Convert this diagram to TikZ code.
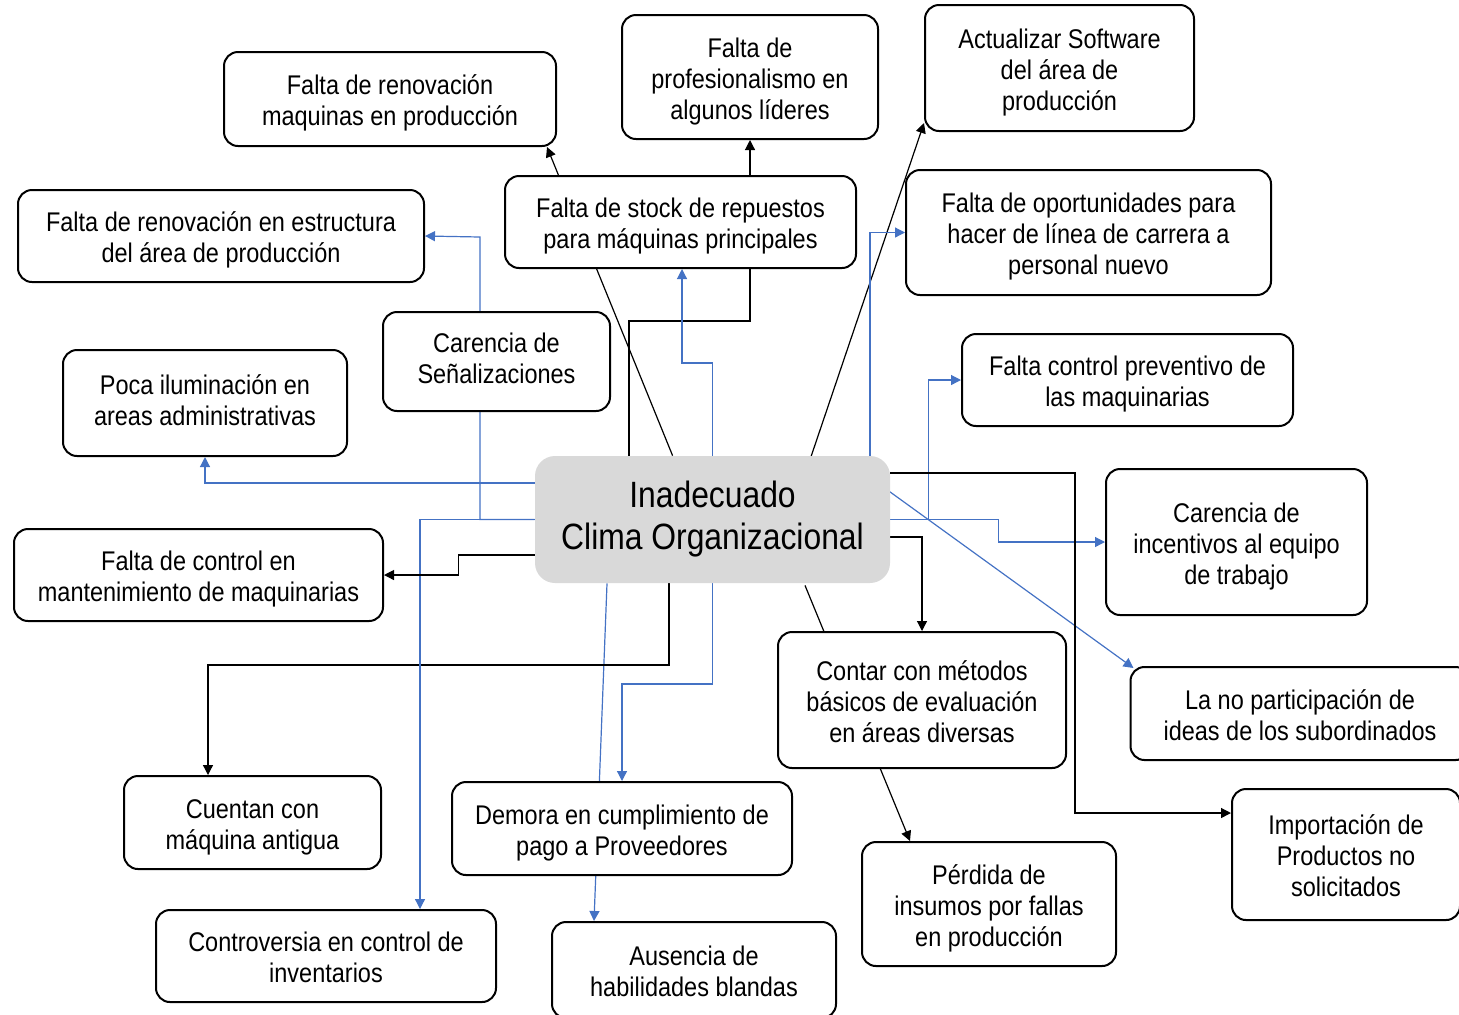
\documentclass[tikz,border=0pt]{standalone}
\usepackage{fontspec}
\setmainfont{Liberation Sans}[FakeStretch=0.87]
\usepackage{xcolor}
\usetikzlibrary{positioning}
\usetikzlibrary{arrows.meta}
\usetikzlibrary{calc}
\usetikzlibrary{backgrounds}
\definecolor{linkblue}{HTML}{4472C4}
\definecolor{coregray}{HTML}{D9D9D9}
\newcommand{\boxtop}{\rule{0pt}{13.9pt}}
\tikzset{
box/.style={draw=black, line width=1pt, rounded corners=7pt, fill=white, align=center, inner sep=0pt, font=\fontsize{13.5}{15.5}\selectfont,
  execute at end node={\rule[-2.9pt]{0pt}{2.9pt}}},
sz/.style 2 args={minimum width=#1*0.5pt, minimum height=#2*0.5pt},
core/.style={fill=coregray, rounded corners=10pt, align=center, inner sep=0pt, font=\fontsize{18.3}{21}\selectfont},
blackline/.style={black, line width=0.6pt},
blueline/.style={linkblue, line width=0.6pt},
tip/.style={-{Triangle[length=5pt,width=5pt]}}
}

\begin{document}
\begin{tikzpicture}[x=0.5pt,y=-0.5pt]
\clip (0,0) rectangle (1459,1014);

% Coordinates
\coordinate (stock_bend) at (682,363);
\coordinate (elbow_bend) at (750,321);
\coordinate (senal_bend) at (480,237);
\coordinate (cuentan_bend) at (208,665);
\coordinate (demora_bend) at (622,684);
\coordinate (import_bend) at (1075,813);

% Boxes
\node[core, sz={355}{127}] (clima) at (712.5,519.5) {Inadecuado\\Clima Organizacional};

\node[box, sz={332}{94}] (renovmaq) at (390,99) {\boxtop Falta de renovación\\maquinas en producción};
\node[box, sz={256}{124}] (profes) at (750,77) {\boxtop Falta de\\profesionalismo en\\algunos líderes};
\node[box, sz={269}{126}] (actualizar) at (1059.5,68) {\boxtop Actualizar Software\\del área de\\producción};
\node[box, sz={406}{92}] (renovest) at (221,236) {\boxtop Falta de renovación en estructura\\del área de producción};
\node[box, sz={351}{92}] (stock) at (680.5,222) {\boxtop Falta de stock de repuestos\\para máquinas principales};
\node[box, sz={365}{125}] (oportun) at (1088.5,232.5) {\boxtop Falta de oportunidades para\\hacer de línea de carrera a\\personal nuevo};
\node[box, sz={227}{99}] (senal) at (496.5,361.5) {Carencia de\\Señalizaciones};
\node[box, sz={284}{106}] (ilumin) at (205,403) {Poca iluminación en\\areas administrativas};
\node[box, sz={331}{92}] (preventivo) at (1127.5,380) {\boxtop Falta control preventivo de\\las maquinarias};
\node[box, sz={261}{146}] (incentivos) at (1236.5,542) {\boxtop Carencia de\\incentivos al equipo\\de trabajo};
\node[box, sz={369}{92}] (mantenim) at (198.5,575) {\boxtop Falta de control en\\mantenimiento de maquinarias};
\node[box, sz={288}{136}] (contar) at (922,700) {\boxtop Contar con métodos\\básicos de evaluación\\en áreas diversas};
\node[box, sz={339}{93}] (particip) at (1300,713.5) {\boxtop La no participación de\\ideas de los subordinados};
\node[box, sz={257}{93}] (cuentan) at (252.5,822.5) {\boxtop Cuentan con\\máquina antigua};
\node[box, sz={340}{93}] (demora) at (622,828.5) {\boxtop Demora en cumplimiento de\\pago a Proveedores};
\node[box, sz={228}{131}] (importacion) at (1346,854.5) {\boxtop Importación de\\Productos no\\solicitados};
\node[box, sz={254}{124}] (perdida) at (989,904) {\boxtop Pérdida de\\insumos por fallas\\en producción};
\node[box, sz={340}{92}] (controversia) at (326,956) {\boxtop Controversia en control de\\inventarios};
\node[box, sz={284}{96}] (ausencia) at (694,970) {\boxtop Ausencia de\\habilidades blandas};

% Arrows
\begin{pgfonlayer}{background}
\draw[blackline, tip] (clima.122) -- (renovmaq.-17);
\draw[blackline] (clima.north -| 629,0) |- (elbow_bend) -- (stock.south -| elbow_bend);
\draw[blackline, tip] (stock.north -| profes.south) -- (profes.south);
\draw[blueline, tip] (clima.north) |- (stock_bend) -- (stock.south -| stock_bend);
\draw[blackline, tip] ($(clima.north)+(97.5,4)$) -- ($(actualizar.south west)+(0,-9)$);
\draw[blueline, tip] ($(clima.north)+(157.5,0)$) |- (oportun.west);
\draw[blueline, tip] (clima.east) -- ++(38,0) |- (preventivo.west);
\draw[blueline, tip] (clima.east) -- ++(108,0) |- (incentivos.west);
\draw[blueline, tip] ($(clima.east)+(-3,-29.5)$) -- ($(particip.north west)+(4,2)$);
\draw[blackline, tip] ($(clima.east)+(0,-46.5)$) -| (import_bend) -- (importacion.west |- import_bend);
\draw[blackline, tip] ($(clima.east)+(0,17.5)$) -| (contar.north);
\draw[blackline, tip] ($(clima.south)+(92.5,2)$) -- ($(perdida.north)+(-79,0)$);
\draw[blueline, tip] (clima.south) |- (demora_bend) -- (demora.north);
\draw[blueline, tip] ($(clima.south)+(-105.5,0)$) -- ($(ausencia.north)+(-100,0)$);
\draw[blackline, tip] ($(clima.south)+(-43.5,0)$) |- (cuentan_bend) -- (cuentan.north -| cuentan_bend);
\draw[blueline, tip] (clima.west) -| ($(controversia.north)+(94,0)$);
\draw[blueline, tip] (clima.west) -| (senal_bend) -- (renovest.east);
\draw[blueline, tip] ($(clima.west)+(5,-36.5)$) -| (ilumin.south);
\draw[blackline, tip] ($(clima.west)+(0,35.5)$) -- ++(-76,0) |- (mantenim.east);
\end{pgfonlayer}

\end{tikzpicture}
\end{document}
